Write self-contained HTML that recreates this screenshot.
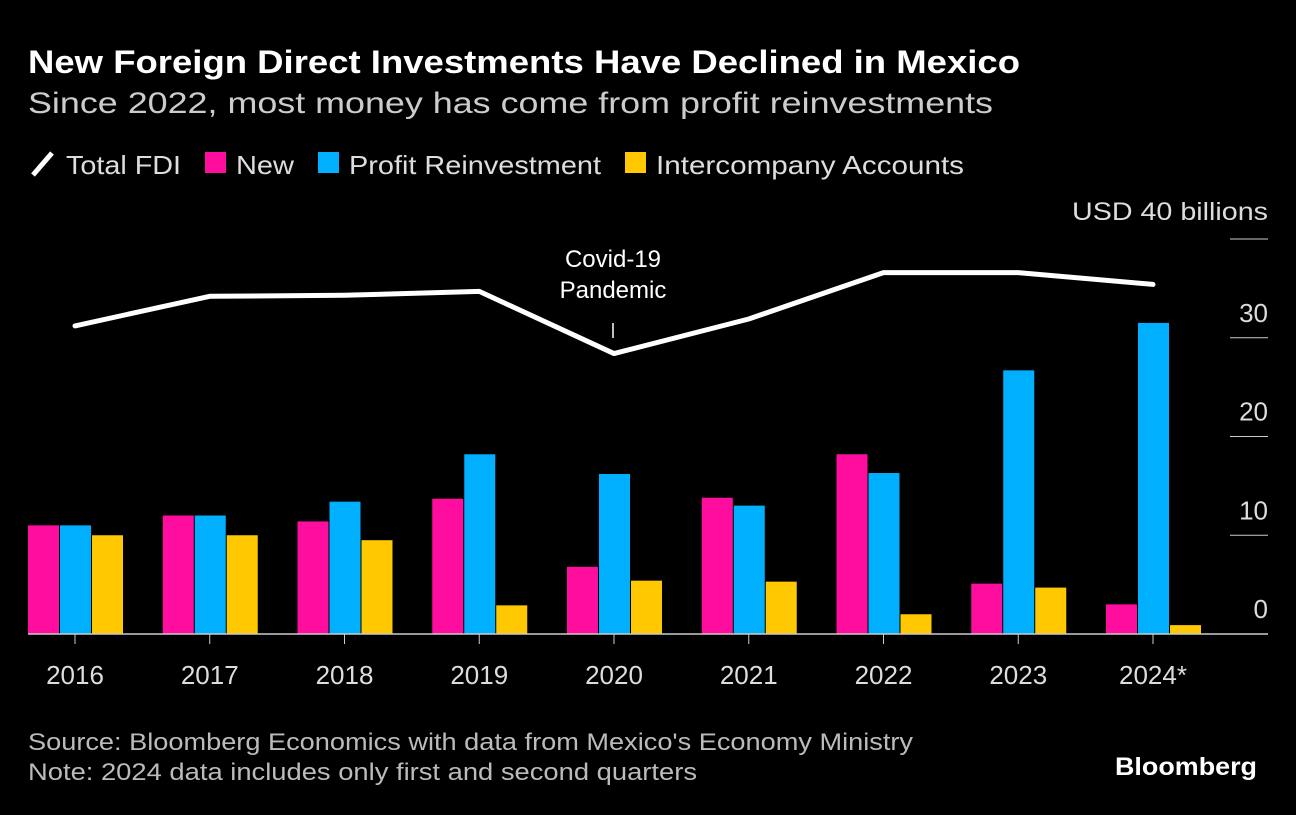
<!DOCTYPE html>
<html><head><meta charset="utf-8"><style>
body{margin:0;background:#000;width:1296px;height:810px;overflow:hidden;font-family:"Liberation Sans",sans-serif;color:#fff}
svg text{font-family:"Liberation Sans",sans-serif}
</style></head><body>
<svg width="1296" height="810">
<text x="28" y="73" font-size="32" font-weight="bold" fill="#fff" textLength="992" lengthAdjust="spacingAndGlyphs">New Foreign Direct Investments Have Declined in Mexico</text>
<text x="28" y="113" font-size="30" fill="#ccc" textLength="965" lengthAdjust="spacingAndGlyphs">Since 2022, most money has come from profit reinvestments</text>
<g>
<line x1="33" y1="175" x2="52" y2="153" stroke="#fff" stroke-width="5"/>
<text x="66" y="174" font-size="26" fill="#ddd" textLength="115" lengthAdjust="spacingAndGlyphs">Total FDI</text>
<rect x="205" y="152" width="21" height="21" fill="#ff0d9e"/>
<text x="236" y="174" font-size="26" fill="#ddd" textLength="58" lengthAdjust="spacingAndGlyphs">New</text>
<rect x="318" y="152" width="21" height="21" fill="#00b0ff"/>
<text x="349" y="174" font-size="26" fill="#ddd" textLength="252" lengthAdjust="spacingAndGlyphs">Profit Reinvestment</text>
<rect x="625" y="152" width="21" height="21" fill="#ffc800"/>
<text x="656" y="174" font-size="26" fill="#ddd" textLength="308" lengthAdjust="spacingAndGlyphs">Intercompany Accounts</text>
</g>
<text x="1072" y="220" font-size="25" fill="#ddd" textLength="196" lengthAdjust="spacingAndGlyphs">USD 40 billions</text>
<g id="plot"></g>
<text x="613" y="267" font-size="24" fill="#fff" text-anchor="middle">Covid-19</text>
<text x="613" y="298" font-size="24" fill="#fff" text-anchor="middle">Pandemic</text>
<line x1="613" y1="323" x2="613" y2="338" stroke="#fff" stroke-width="1.5"/>
<text x="28" y="750" font-size="24" fill="#bbb" textLength="885" lengthAdjust="spacingAndGlyphs">Source: Bloomberg Economics with data from Mexico's Economy Ministry</text>
<text x="28" y="780" font-size="24" fill="#bbb" textLength="669" lengthAdjust="spacingAndGlyphs">Note: 2024 data includes only first and second quarters</text>
<text x="1115" y="775" font-size="25" font-weight="bold" fill="#fff" textLength="142" lengthAdjust="spacingAndGlyphs">Bloomberg</text>
</svg>
<script>
const years=["2016","2017","2018","2019","2020","2021","2022","2023","2024*"];
const newFDI=[11.0,12.0,11.4,13.7,6.8,13.8,18.2,5.1,3.0];
const profit=[11.0,12.0,13.4,18.2,16.2,13.0,16.3,26.7,31.5];
const interco=[10.0,10.0,9.5,2.9,5.4,5.3,2.0,4.7,0.9];
const total=[31.2,34.2,34.3,34.7,28.4,31.9,36.6,36.6,35.4];
const yTicks=[0,10,20,30];
const NS="http://www.w3.org/2000/svg";
const g=document.getElementById('plot');
const y=v=>634-v*9.875;
const x=i=>75+i*134.75;
function mk(t,a){const e=document.createElementNS(NS,t);for(const k in a)e.setAttribute(k,a[k]);g.appendChild(e);return e;}
yTicks.forEach(t=>{
 if(t>0){const l=mk('line',{x1:1230,x2:1268,y1:y(t),y2:y(t),stroke:'#ccc','stroke-width':1});
 
 }
 const tx=mk('text',{x:1268,y:y(t)-16,'font-size':26,fill:'#ddd','text-anchor':'end'});tx.textContent=t;
 
 
});
const l40=mk('line',{x1:1230,x2:1268,y1:y(40),y2:y(40),stroke:'#ccc','stroke-width':1});


const series=[[newFDI,'#ff0d9e',-47,'new'],[profit,'#00b0ff',-15,'profit'],[interco,'#ffc800',17,'interco']];
years.forEach((yr,i)=>{
 series.forEach(s=>{
  const v=s[0][i];
  const r=mk('rect',{x:x(i)+s[2],y:y(v),width:31,height:634-y(v),fill:s[1]});
  
  
 });
 const tk=mk('line',{x1:x(i),x2:x(i),y1:634,y2:644,stroke:'#ccc','stroke-width':1});
 
 
 const t=mk('text',{x:x(i),y:684,'font-size':26,fill:'#ddd','text-anchor':'middle'});t.textContent=yr;
 
 
});
const base=mk('line',{x1:28,x2:1268,y1:634,y2:634,stroke:'#ccc','stroke-width':1.5});


const p=mk('polyline',{points:total.map((v,i)=>x(i)+','+y(v)).join(' '),fill:'none',stroke:'#fff','stroke-width':5,'stroke-linejoin':'round','stroke-linecap':'round'});


</script>
</body></html>
